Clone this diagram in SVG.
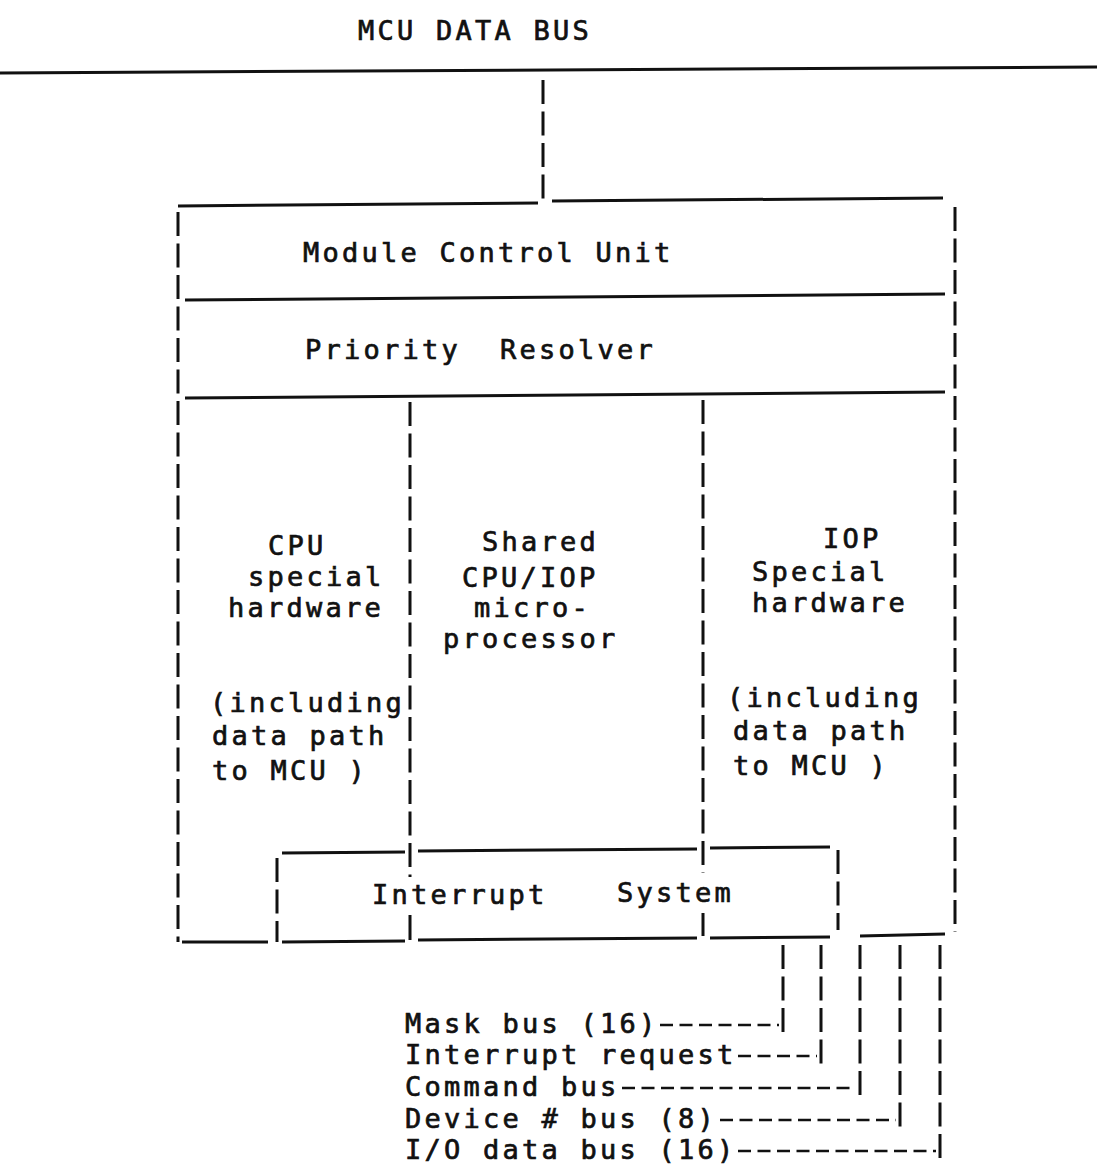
<svg xmlns="http://www.w3.org/2000/svg" width="1102" height="1173" viewBox="0 0 1102 1173">
<style>
text{font-family:"DejaVu Sans Mono","Liberation Mono",monospace;font-size:27px;letter-spacing:3.25px;fill:#111;stroke:#111;stroke-width:0.7px;white-space:pre}
.h{stroke:#111;stroke-width:3;fill:none}
.v{stroke:#111;stroke-width:3;fill:none;stroke-dasharray:24 7.5}
.d{stroke:#111;stroke-width:2.5;fill:none;stroke-dasharray:13 6.5}
</style>
<rect width="1102" height="1173" fill="#fff"/>
<g id="mcu-data-bus">
<text x="358" y="40">MCU DATA BUS</text>
<path class="h" d="M0 73 L1097 67"/>
</g>
<g id="module-control-unit">
<path class="h" d="M178 206 L538 203 M552 201 L943 198"/>
<text x="303" y="262">Module Control Unit</text>
<path class="h" d="M185 300 L945 294"/>
</g>
<g id="priority-resolver">
<text x="305" y="359" xml:space="preserve">Priority  Resolver</text>
<path class="h" d="M185 398 L945 392"/>
</g>
<g id="cpu-special-hardware">
<text x="268" y="555">CPU</text>
<text x="248" y="586">special</text>
<text x="228" y="617">hardware</text>
<text x="210" y="712">(including</text>
<text x="212" y="745">data path</text>
<text x="212" y="780">to MCU )</text>
</g>
<g id="shared-microprocessor">
<text x="482" y="551">Shared</text>
<text x="462" y="587">CPU/IOP</text>
<text x="474" y="617">micro-</text>
<text x="443" y="648">processor</text>
</g>
<g id="iop-special-hardware">
<text x="823" y="548">IOP</text>
<text x="752" y="581">Special</text>
<text x="752" y="612">hardware</text>
<text x="727" y="707">(including</text>
<text x="733" y="740">data path</text>
<text x="733" y="775">to MCU )</text>
</g>
<g id="interrupt-system">
<path class="h" d="M282 853 L405 852 M418 851 L697 849 M710 848 L830 847"/>
<path class="v" d="M277 858 L277 942 M838 850 L838 930"/>
<text x="372" y="904">Interrupt</text>
<text x="617" y="902">System</text>
</g>
<g id="frame">
<path class="v" d="M178 212 L178 942 M955 207 L955 932 M410 402 L410 877 M703 400 L703 873"/>
<path class="h" d="M410 915 L410 940 M703 913 L703 936"/>
<path class="h" d="M182 942 L268 942 M282 942 L405 941 M418 940 L697 938 M710 938 L830 937 M860 936 L945 934"/>
</g>
<g id="bus-labels">
<text x="405" y="1033">Mask bus (16)</text>
<text x="405" y="1064">Interrupt request</text>
<text x="405" y="1096">Command bus</text>
<text x="405" y="1128">Device # bus (8)</text>
<text x="405" y="1159">I/O data bus (16)</text>
</g>
<g id="connectors">
<path class="v" d="M543 80 L543 203"/>
<path class="v" d="M783 945 L783 1033 M821 945 L821 1064 M860 945 L860 1096 M900 945 L900 1128 M940 945 L940 1160"/>
<path class="d" d="M660 1025 L779 1025 M738 1056 L817 1056 M622 1088 L856 1088 M720 1120 L896 1120 M738 1151 L936 1151"/>
</g>
</svg>
